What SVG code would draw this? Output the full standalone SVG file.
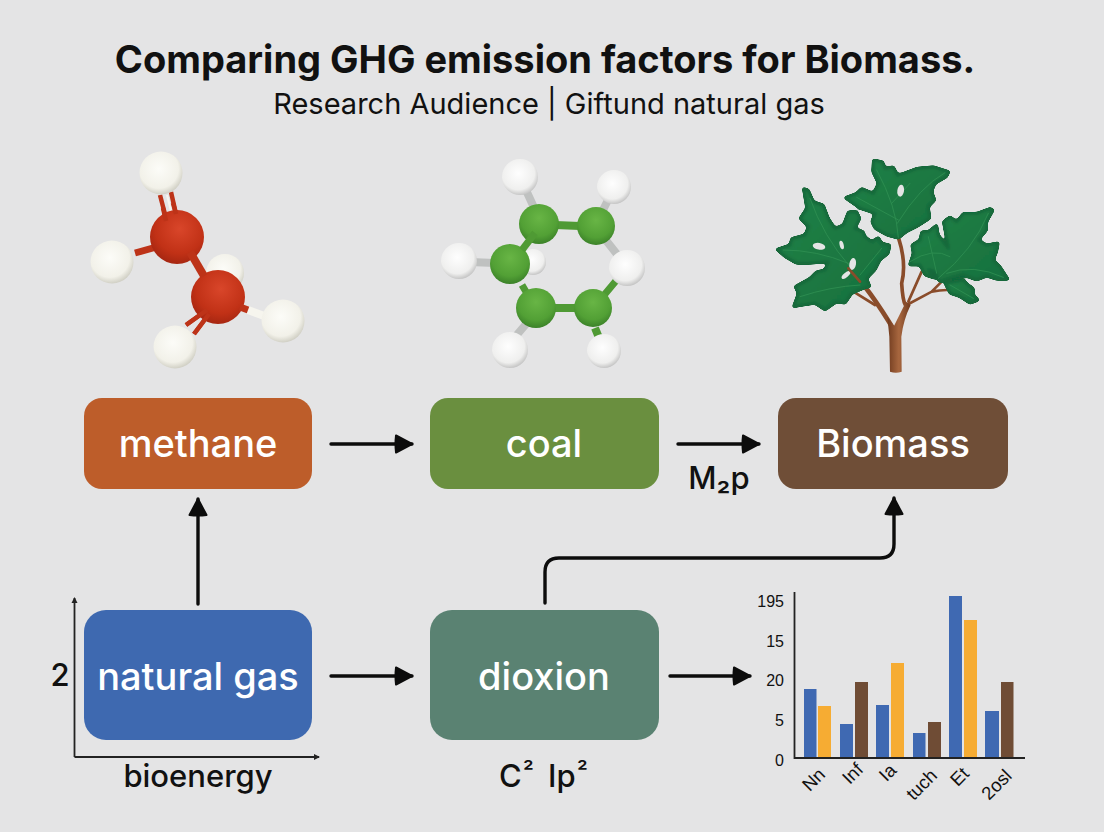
<svg xmlns="http://www.w3.org/2000/svg" width="1104" height="832" viewBox="0 0 1104 832">
<style>
text{font-family:Inter,"Liberation Sans",Arial,sans-serif;fill:#111}
.n{fill:#fff;font-size:38px;font-weight:500;text-anchor:middle}
.l{font-size:31px;font-weight:500;text-anchor:middle}
.c{fill:none;stroke:#0c0c0c;stroke-width:3.4;stroke-linecap:round}
.a{marker-end:url(#ah)}
.ax{fill:none;stroke:#222;stroke-width:1.8}
.t{font-size:16px;text-anchor:end;font-family:"Liberation Sans",Arial,sans-serif}
.x{font-size:18.500px;text-anchor:middle;font-family:"Liberation Sans",Arial,sans-serif}
.b{fill:#3f69b2}.o{fill:#f6ac33}.r{fill:#6f4c35}
.hb{stroke:#f6f5ee;fill:none}
.gb{stroke:#bfc1c0;fill:none}
.rb{stroke:#bd3318;fill:none}
.cb{stroke:#4f9a34;fill:none}
.lf{fill:url(#leaf);stroke:#14683a;stroke-width:9;stroke-linejoin:round}
.v{fill:none;stroke:#2f8f52;stroke-width:2.500;stroke-linecap:round}
.hole{fill:#e4e5e5}
.tr{fill:none;stroke:#8a4c2a;stroke-linecap:round}
</style>
<defs>
<marker id="ah" markerUnits="userSpaceOnUse" markerWidth="24" markerHeight="26" refX="18" refY="12" orient="auto"><path d="M2 3.5 L18 12 L2 20.5 Q1 12 2 3.5Z" fill="#0c0c0c" stroke="#0c0c0c" stroke-width="2" stroke-linejoin="round"/></marker>
<marker id="sm" markerUnits="userSpaceOnUse" markerWidth="8" markerHeight="8" refX="5" refY="4" orient="auto"><path d="M0 1L6 4L0 7Z" fill="#222"/></marker>
<radialGradient id="hg" cx=".45" cy=".4" r=".65"><stop offset="0" stop-color="#fcfcf8"/><stop offset=".7" stop-color="#f2f1e9"/><stop offset="1" stop-color="#c6c5b9"/></radialGradient>
<radialGradient id="h2" cx=".45" cy=".4" r=".65"><stop offset="0" stop-color="#fefefe"/><stop offset=".7" stop-color="#efefee"/><stop offset="1" stop-color="#b8b8b8"/></radialGradient>
<radialGradient id="rg" cx=".55" cy=".35" r=".7"><stop offset="0" stop-color="#d9462a"/><stop offset=".65" stop-color="#c13116"/><stop offset="1" stop-color="#a02410"/></radialGradient>
<radialGradient id="gg" cx=".5" cy=".35" r=".7"><stop offset="0" stop-color="#68b545"/><stop offset=".65" stop-color="#52a035"/><stop offset="1" stop-color="#367a26"/></radialGradient>
<linearGradient id="leaf" x1="0" y1="0" x2="1" y2="1"><stop offset="0" stop-color="#1f8146"/><stop offset="1" stop-color="#17703e"/></linearGradient>
<linearGradient id="bark" x1="0" y1="0" x2="1" y2="0"><stop offset="0" stop-color="#6f3a1e"/><stop offset=".5" stop-color="#a8673f"/><stop offset="1" stop-color="#6f3a1e"/></linearGradient>
<filter id="soft" x="-5%" y="-5%" width="110%" height="110%"><feGaussianBlur stdDeviation="4" result="b"/><feComponentTransfer in="b"><feFuncA type="linear" slope="8" intercept="-3.5"/></feComponentTransfer></filter>
</defs>
<rect width="1104" height="832" fill="#e4e4e5"/>
<g id="title">
<text x="545" y="73" text-anchor="middle" font-size="38" font-weight="700">Comparing GHG emission factors for Biomass.</text>
<text x="549" y="114" text-anchor="middle" font-size="29">Research Audience | Giftund natural gas</text>
</g>
<g id="methane-molecule">
<circle cx="225" cy="273" r="19" fill="url(#hg)"/>
<path class="hb" stroke-width="8" d="M248 310L267 317"/>
<path class="hb" stroke-width="2" d="M167 195L172 215"/>
<path class="rb" stroke-width="7" d="M135 253L160 246"/>
<path class="rb" stroke-width="4.500" d="M160 195L167 222M171 192L176 214"/>
<path class="rb" stroke-width="4.500" d="M186 325L207 310M194 334L209 314"/>
<circle cx="161" cy="173" r="21.500" fill="url(#hg)"/>
<circle cx="112" cy="262" r="21.500" fill="url(#hg)"/>
<circle cx="177" cy="237" r="27" fill="url(#rg)"/>
<circle cx="218" cy="297" r="27" fill="url(#rg)"/>
<path class="rb" stroke-width="8" d="M190 252L204 276"/>
<path class="rb" stroke-width="4.500" d="M166 221L163 208M176 214L173 203M186 325L207 310M194 334L209 314"/>
<path class="rb" stroke-width="7" d="M240 307L248 310"/>
<circle cx="283" cy="321" r="21.500" fill="url(#hg)"/>
<circle cx="175" cy="347" r="21.500" fill="url(#hg)"/>
</g>
<g id="coal-molecule">
<circle cx="533" cy="262" r="13" fill="url(#h2)"/>
<path class="gb" stroke-width="8" d="M525 188L537 214M612 192L603 210M601 234L620 258M470 262L495 263M533 316L515 337"/>
<path class="cb" stroke-width="8" d="M555 225L580 226M552 308L577 308M595 328L602 345"/>
<path class="cb" stroke-width="7" d="M522 285L532 302M600 300L620 276"/>
<circle cx="520" cy="177" r="18" fill="url(#h2)"/>
<circle cx="614" cy="187" r="17" fill="url(#h2)"/>
<circle cx="459" cy="261" r="18" fill="url(#h2)"/>
<circle cx="627" cy="268" r="18" fill="url(#h2)"/>
<circle cx="510" cy="350" r="18" fill="url(#h2)"/>
<circle cx="604" cy="351" r="17" fill="url(#h2)"/>
<circle cx="539" cy="224" r="20" fill="url(#gg)"/>
<circle cx="596" cy="226" r="19" fill="url(#gg)"/>
<circle cx="536" cy="308" r="20" fill="url(#gg)"/>
<circle cx="593" cy="308" r="19" fill="url(#gg)"/>
<circle cx="510" cy="264" r="20" fill="url(#gg)"/>
<path class="cb" stroke-width="7" d="M535 233L522 250"/>
</g>
<g id="biomass-tree" transform="translate(760 150) scale(.33333)">
<path class="tr" stroke-width="8" d="M285 428L345 465M445 455L485 365M440 465L515 425Q540 420 560 420M515 425L545 395"/>
<path class="tr" stroke-width="14" d="M268 355Q330 420 402 540"/>
<path class="tr" stroke-width="11" d="M416 265Q440 340 425 400Q428 450 436 465"/>
<path d="M390 665Q408 672 425 665L424 560Q430 510 452 465L438 455L402 528L382 500L388 560Z" fill="url(#bark)"/>
<g filter="url(#soft)">
<path class="lf" d="M130 115L145 120L160 155L190 165L205 205L225 235L250 225L265 185L290 185L300 205L285 235L310 245L315 260L335 275L355 262L365 280L390 285L385 310L360 330L345 360L320 385L330 410L310 415L275 430L255 460L230 455L195 480L165 460L130 465L100 470L115 430L105 410L150 385L170 365L195 360L205 335L150 340L110 340L75 320L50 298L90 285L95 265L135 255L145 230L120 205L140 175Z"/>
<path class="lf" d="M340 30L368 35L375 55L400 50L412 75L430 70L470 55L520 50L567 65L560 80L525 100L515 125L525 150L505 170L510 205L470 230L440 245L415 265L380 255L345 235L335 215L345 190L300 175L255 143L290 130L305 115L340 130L355 100L338 65Z"/>
<path class="lf" d="M690 175L700 180L680 215L680 240L655 270L680 285L715 278L710 305L700 330L720 350L745 388L710 388L680 378L650 390L610 375L570 385L540 395L530 380L525 365L505 360L525 385L495 375L480 345L448 345L460 310L455 285L480 270L485 245L505 245L530 225L535 255L565 295L550 215L570 200L590 215L610 190L650 190Z"/>
<path class="lf" d="M555 400L580 395L610 390L625 405L640 415L640 435L655 450L630 460L600 440L570 430Z"/>
</g>
<path class="v" d="M415 262Q410 170 350 60M412 220Q480 110 555 68M415 210L290 142M395 160L450 100M150 145Q190 260 270 350M70 300Q170 300 265 340M120 440Q210 410 300 405M365 295L300 375M685 190Q640 300 535 385M450 335Q520 290 570 320M505 260L530 370M730 382Q640 340 560 370M570 405L640 445"/>
<ellipse class="hole" cx="422" cy="122" rx="10" ry="18" transform="rotate(8 422 122)"/>
<ellipse class="hole" cx="177" cy="289" rx="19" ry="10" transform="rotate(10 177 289)"/>
<ellipse class="hole" cx="245" cy="285" rx="6" ry="13" transform="rotate(-15 245 285)"/>
<ellipse class="hole" cx="278" cy="342" rx="10" ry="18" transform="rotate(10 278 342)"/>
<ellipse class="hole" cx="258" cy="375" rx="7" ry="16" transform="rotate(50 258 375)"/>
<path class="tr" stroke-width="8" d="M265 355L300 395"/>
</g>
<g id="connectors">
<path class="c a" d="M331 444H412"/>
<path class="c a" d="M678 444H759"/>
<path class="c a" d="M198 604V499"/>
<path class="c a" d="M331 676H412"/>
<path class="c a" d="M670 676H750"/>
<path class="c a" d="M545 603V572Q545 558 559 558H880Q894 558 894 544V498"/>
<path class="ax" marker-end="url(#sm)" d="M74.500 757V598"/>
<path class="ax" marker-end="url(#sm)" d="M74.500 757H319"/>
</g>
<g id="methane"><rect x="84" y="398" width="228" height="91" rx="18" fill="#bd5d2a"/><text class="n" x="198" y="457">methane</text></g>
<g id="coal"><rect x="430" y="398" width="229" height="91" rx="18" fill="#6a8f3f"/><text class="n" x="544" y="457">coal</text></g>
<g id="biomass"><rect x="778" y="398" width="230" height="91" rx="18" fill="#6f4e37"/><text class="n" x="893" y="457">Biomass</text></g>
<g id="natural-gas"><rect x="84" y="610" width="228" height="130" rx="22" fill="#3e69b0"/><text class="n" x="198" y="690">natural gas</text></g>
<g id="dioxion"><rect x="430" y="610" width="229" height="130" rx="22" fill="#5a8272"/><text class="n" x="544" y="690">dioxion</text></g>
<g id="labels">
<text class="l" x="719" y="489" font-size="32">M₂p</text>
<text class="l" x="60" y="686">2</text>
<text class="l" x="198" y="787">bioenergy</text>
<text font-size="31" font-weight="500" y="787"><tspan x="499">C</tspan><tspan x="523" dy="-7" font-size="24">² </tspan><tspan x="548" dy="7">Ip</tspan><tspan x="577" dy="-7" font-size="24">²</tspan></text>
</g>
<g id="chart">
<path d="M794.500 592V758H1025" fill="none" stroke="#222" stroke-width="1.800"/>
<rect class="b" x="804" y="689" width="12.500" height="68"/><rect class="o" x="818" y="706" width="13" height="51"/>
<rect class="b" x="840" y="724" width="13" height="33"/><rect class="r" x="855" y="682" width="13" height="75"/>
<rect class="b" x="876" y="705" width="13" height="52"/><rect class="o" x="891" y="663" width="13" height="94"/>
<rect class="b" x="913" y="733" width="12.500" height="24"/><rect class="r" x="928" y="722" width="13" height="35"/>
<rect class="b" x="949" y="596" width="13" height="161"/><rect class="o" x="964" y="620" width="13" height="137"/>
<rect class="b" x="985" y="711" width="14" height="46"/><rect class="r" x="1001" y="682" width="12.500" height="75"/>
<text class="t" x="784" y="607">195</text><text class="t" x="784" y="647">15</text><text class="t" x="784" y="686">20</text><text class="t" x="784" y="726">5</text><text class="t" x="784" y="766">0</text>
<text class="x" transform="translate(818 784) rotate(-45)">Nn</text>
<text class="x" transform="translate(857 778) rotate(-45)">Inf</text>
<text class="x" transform="translate(892 777) rotate(-45)">Ia</text>
<text class="x" transform="translate(926 789) rotate(-45)">tuch</text>
<text class="x" transform="translate(964 781) rotate(-45)">Et</text>
<text class="x" transform="translate(1001 789) rotate(-45)">2osl</text>
</g>
</svg>
